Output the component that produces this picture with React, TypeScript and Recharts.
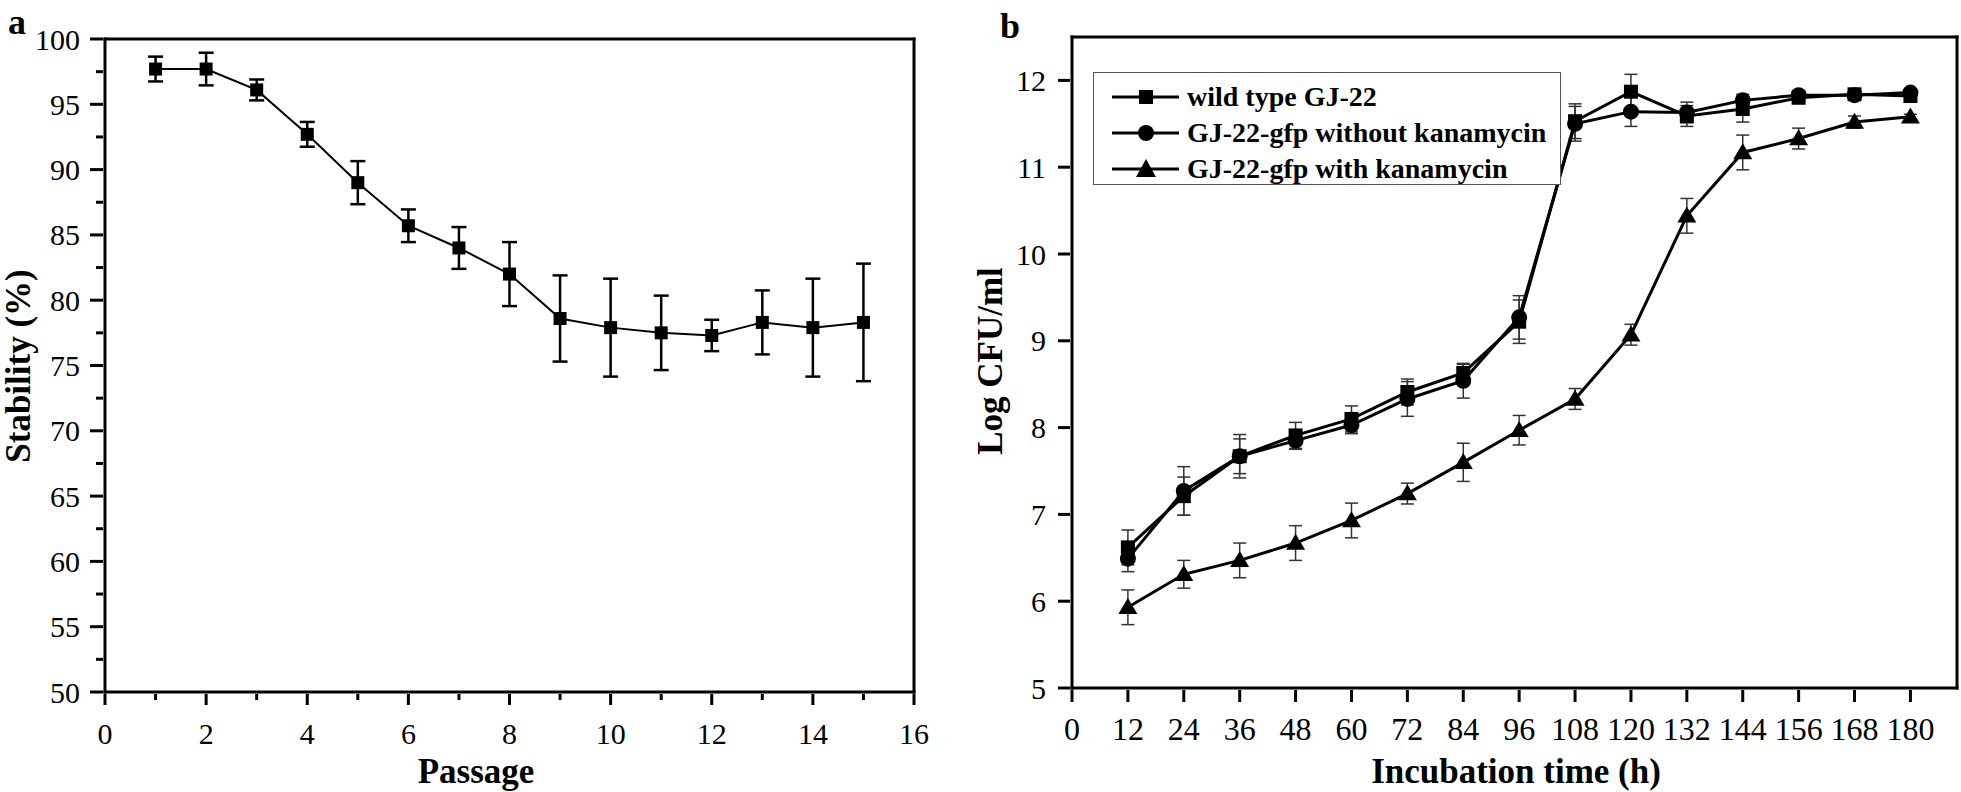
import { LineChart, Line, XAxis, YAxis, ErrorBar, Legend, ReferenceLine } from 'recharts';

const FONT = "'Liberation Serif', 'Times New Roman', serif";

// panel a: plasmid stability over passages
const passage = [1, 2, 3, 4, 5, 6, 7, 8, 9, 10, 11, 12, 13, 14, 15];
const stability = [97.7, 97.7, 96.1, 92.7, 89.0, 85.7, 84.0, 82.0, 78.6, 77.9, 77.5, 77.3, 78.3, 77.9, 78.3];
const stabilityErr = [0.95, 1.25, 0.8, 0.95, 1.65, 1.25, 1.6, 2.45, 3.3, 3.75, 2.85, 1.2, 2.45, 3.75, 4.5];
const passageTicks = [0, 1, 2, 3, 4, 5, 6, 7, 8, 9, 10, 11, 12, 13, 14, 15, 16];
const stabilityTicks = [50, 52.5, 55, 57.5, 60, 62.5, 65, 67.5, 70, 72.5, 75, 77.5, 80, 82.5, 85, 87.5, 90, 92.5, 95, 97.5, 100];

// panel b: growth curves
const hours = [12, 24, 36, 48, 60, 72, 84, 96, 108, 120, 132, 144, 156, 168, 180];
const wildType = [6.62, 7.21, 7.67, 7.91, 8.1, 8.41, 8.63, 9.22, 11.53, 11.87, 11.59, 11.67, 11.8, 11.84, 11.82];
const wildTypeErr = [0.2, 0.22, 0.25, 0.15, 0.15, 0.15, 0.1, 0.25, 0.2, 0.2, 0.12, 0.15, 0.05, 0.04, 0.05];
const gfpNoKan = [6.49, 7.27, 7.67, 7.85, 8.03, 8.33, 8.54, 9.27, 11.5, 11.64, 11.63, 11.77, 11.83, 11.83, 11.86];
const gfpNoKanErr = [0.15, 0.28, 0.2, 0.1, 0.1, 0.2, 0.2, 0.25, 0.2, 0.17, 0.12, 0.07, 0.05, 0.04, 0.04];
const gfpKan = [5.93, 6.31, 6.47, 6.67, 6.93, 7.24, 7.6, 7.97, 8.33, 9.07, 10.44, 11.17, 11.33, 11.52, 11.58];
const gfpKanErr = [0.2, 0.16, 0.2, 0.2, 0.2, 0.12, 0.22, 0.17, 0.12, 0.12, 0.2, 0.2, 0.12, 0.07, 0.03];
const hourTicks = [0, 12, 24, 36, 48, 60, 72, 84, 96, 108, 120, 132, 144, 156, 168, 180];
const logTicks = [5, 6, 7, 8, 9, 10, 11, 12];

const seriesOrder = ['wildType', 'gfpNoKan', 'gfpKan'];
const seriesNames: Record<string, string> = {
  wildType: 'wild type GJ-22',
  gfpNoKan: 'GJ-22-gfp without kanamycin',
  gfpKan: 'GJ-22-gfp with kanamycin',
};

const stabilityData = passage.map((p, i) => ({ passage: p, stability: stability[i], err: stabilityErr[i] }));
const growthData = hours.map((h, i) => ({
  hours: h,
  wildType: wildType[i],
  wildTypeErr: wildTypeErr[i],
  gfpNoKan: gfpNoKan[i],
  gfpNoKanErr: gfpNoKanErr[i],
  gfpKan: gfpKan[i],
  gfpKanErr: gfpKanErr[i],
}));

const axisLine = { stroke: '#000', strokeWidth: 3, strokeLinecap: 'square' as const };

// ticks drawn by hand so minor ticks can be shorter than the major ones
const leftTick = (isMajor: (v: number) => boolean, majorLen: number, minorLen: number, gap: number, fontSize: number) =>
  (props: any) => {
    const { x, y, payload } = props;
    const major = isMajor(payload.value);
    const len = major ? majorLen : minorLen;
    return (
      <g>
        <line x1={x - len} x2={x} y1={y} y2={y} stroke="#000" strokeWidth={3} />
        {major && (
          <text x={x - majorLen - gap} y={y} dy="0.35em" textAnchor="end" fontSize={fontSize} fontFamily={FONT} fill="#000">
            {payload.value}
          </text>
        )}
      </g>
    );
  };

const bottomTick = (isMajor: (v: number) => boolean, majorLen: number, minorLen: number, baseline: number, fontSize: number) =>
  (props: any) => {
    const { x, y, payload } = props;
    const major = isMajor(payload.value);
    const len = major ? majorLen : minorLen;
    return (
      <g>
        <line x1={x} x2={x} y1={y} y2={y + len} stroke="#000" strokeWidth={3} />
        {major && (
          <text x={x} y={y + baseline} textAnchor="middle" fontSize={fontSize} fontFamily={FONT} fill="#000">
            {payload.value}
          </text>
        )}
      </g>
    );
  };

const squareDot = (size: number) => (p: any) =>
  p.cx == null ? <g key={`s${p.index}`} /> : (
    <rect key={`s${p.index}`} x={p.cx - size / 2} y={p.cy - size / 2} width={size} height={size} fill="#000" />
  );

const circleDot = (r: number) => (p: any) =>
  p.cx == null ? <g key={`c${p.index}`} /> : <circle key={`c${p.index}`} cx={p.cx} cy={p.cy} r={r} fill="#000" />;

const triangleDot = (w: number, h: number) => (p: any) =>
  p.cx == null ? <g key={`t${p.index}`} /> : (
    <polygon
      key={`t${p.index}`}
      points={`${p.cx},${p.cy - h * 0.58} ${p.cx - w / 2},${p.cy + h * 0.42} ${p.cx + w / 2},${p.cy + h * 0.42}`}
      fill="#000"
    />
  );

const legendMarker = (key: string) => {
  if (key === 'wildType') return <rect x={45} y={11} width={14} height={14} fill="#000" />;
  if (key === 'gfpNoKan') return <circle cx={52} cy={18} r={8} fill="#000" />;
  return <polygon points="52,8 42,26 62,26" fill="#000" />;
};

const LegendBox = ({ payload }: any) => {
  const items = [...(payload ?? [])].sort(
    (a: any, b: any) => seriesOrder.indexOf(a.dataKey) - seriesOrder.indexOf(b.dataKey),
  );
  return (
    <div
      style={{
        width: 468,
        height: 113,
        boxSizing: 'border-box',
        border: '1.5px solid #555',
        background: '#fff',
        paddingTop: 6,
        fontFamily: FONT,
        fontWeight: 'bold',
        fontSize: 28,
        color: '#000',
      }}
    >
      {items.map((item: any) => (
        <div key={item.dataKey} style={{ display: 'flex', alignItems: 'center', height: 36 }}>
          <svg width={93} height={36} style={{ flex: 'none' }}>
            <line x1={18} x2={85} y1={18} y2={18} stroke="#000" strokeWidth={3} />
            {legendMarker(item.dataKey)}
          </svg>
          <span style={{ whiteSpace: 'nowrap' }}>{item.value}</span>
        </div>
      ))}
    </div>
  );
};

const titleStyle = { fontFamily: FONT, fontWeight: 'bold' as const, fill: '#000' };
const panelLetter = { position: 'absolute' as const, fontFamily: FONT, fontWeight: 'bold' as const, fontSize: 36, lineHeight: 'normal' };

const StabilityChart = () => (
  <LineChart width={960} height={792} data={stabilityData} margin={{ top: 39, right: 46, bottom: 0, left: 0 }} style={{ fontFamily: FONT }}>
    <XAxis
      dataKey="passage"
      type="number"
      domain={[0, 16]}
      ticks={passageTicks}
      interval={0}
      height={100}
      tickSize={0}
      axisLine={axisLine}
      tick={bottomTick((v) => v % 2 === 0, 11, 6, 50, 30)}
      label={{
        content: () => (
          <text x={476} y={783} textAnchor="middle" fontSize={35} {...titleStyle}>Passage</text>
        ),
      }}
    />
    <YAxis
      type="number"
      domain={[50, 100]}
      ticks={stabilityTicks}
      interval={0}
      width={105}
      tickSize={0}
      axisLine={axisLine}
      tick={leftTick((v) => v % 5 === 0, 13, 7, 10, 30)}
      label={{
        content: () => (
          <text x={18} y={366} transform="rotate(-90 18 366)" textAnchor="middle" dominantBaseline="central" fontSize={35} {...titleStyle}>
            Stability (%)
          </text>
        ),
      }}
    />
    <ReferenceLine y={100} stroke="#000" strokeWidth={3} strokeLinecap="square" />
    <ReferenceLine x={16} stroke="#000" strokeWidth={3} strokeLinecap="square" />
    <Line dataKey="stability" stroke="#000" strokeWidth={2} dot={squareDot(13)} activeDot={false} isAnimationActive={false}>
      <ErrorBar dataKey="err" direction="y" width={7.5} stroke="#000" strokeWidth={2.5} />
    </Line>
  </LineChart>
);

const GrowthChart = () => (
  <LineChart width={1001} height={792} data={growthData} margin={{ top: 37, right: 4, bottom: 0, left: 0 }} style={{ fontFamily: FONT }}>
    <XAxis
      dataKey="hours"
      type="number"
      domain={[0, 190]}
      ticks={hourTicks}
      interval={0}
      height={104}
      tickSize={0}
      axisLine={axisLine}
      tick={bottomTick(() => true, 12, 12, 50, 32)}
      label={{
        content: () => (
          <text x={556} y={783} textAnchor="middle" fontSize={35} {...titleStyle}>Incubation time (h)</text>
        ),
      }}
    />
    <YAxis
      type="number"
      domain={[5, 12.5]}
      ticks={logTicks}
      interval={0}
      width={112}
      tickSize={0}
      axisLine={axisLine}
      tick={leftTick(() => true, 12, 12, 12, 30)}
      label={{
        content: () => (
          <text x={30} y={361} transform="rotate(-90 30 361)" textAnchor="middle" dominantBaseline="central" fontSize={35} {...titleStyle}>
            Log CFU/ml
          </text>
        ),
      }}
    />
    <ReferenceLine y={12.5} stroke="#000" strokeWidth={3} strokeLinecap="square" />
    <ReferenceLine x={190} stroke="#000" strokeWidth={3} strokeLinecap="square" />
    <Legend
      layout="vertical"
      align="center"
      verticalAlign="middle"
      content={LegendBox}
      wrapperStyle={{ left: 133, top: 72, width: 468, height: 113 }}
    />
    <Line dataKey="wildType" name={seriesNames.wildType} stroke="#000" strokeWidth={3} dot={squareDot(14)} activeDot={false} isAnimationActive={false}>
      <ErrorBar dataKey="wildTypeErr" direction="y" width={6.5} stroke="#333" strokeWidth={1.5} />
    </Line>
    <Line dataKey="gfpNoKan" name={seriesNames.gfpNoKan} stroke="#000" strokeWidth={3} dot={circleDot(8)} activeDot={false} isAnimationActive={false}>
      <ErrorBar dataKey="gfpNoKanErr" direction="y" width={6.5} stroke="#333" strokeWidth={1.5} />
    </Line>
    <Line dataKey="gfpKan" name={seriesNames.gfpKan} stroke="#000" strokeWidth={3} dot={triangleDot(19, 16)} activeDot={false} isAnimationActive={false}>
      <ErrorBar dataKey="gfpKanErr" direction="y" width={6.5} stroke="#333" strokeWidth={1.5} />
    </Line>
  </LineChart>
);

export default function App() {
  return (
    <div style={{ position: 'absolute', left: 0, top: 0, width: 1961, height: 792, background: '#fff', overflow: 'hidden' }}>
      <div style={{ position: 'absolute', left: 0, top: 0 }}>
        <StabilityChart />
      </div>
      <div style={{ position: 'absolute', left: 960, top: 0 }}>
        <GrowthChart />
      </div>
      <div style={{ ...panelLetter, left: 8, top: 1 }}>a</div>
      <div style={{ ...panelLetter, left: 1000, top: 5 }}>b</div>
    </div>
  );
}
